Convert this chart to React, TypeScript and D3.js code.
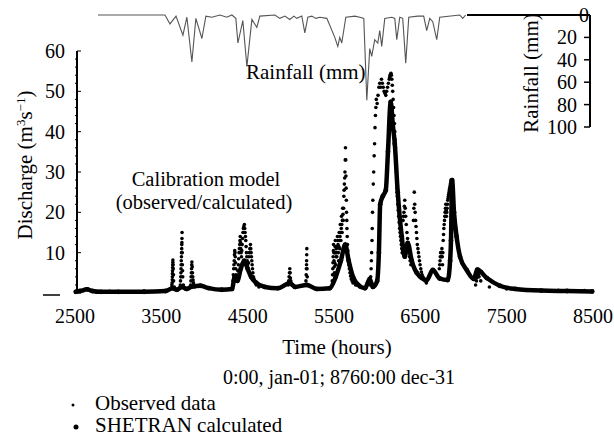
import React from "react";
import * as d3 from "d3";

// time axis labels (hours)
const timeTicks = [2500, 3500, 4500, 5500, 6500, 7500, 8500];
const dischargeTicks = [10, 20, 30, 40, 50, 60];
const rainTicks = [0, 20, 40, 60, 80, 100];

// rainfall, [hour, mm]
const rainfall: [number, number][] = [
  [2766, 0], [3542, 0], [3600, 8], [3670, 1], [3750, 18], [3796, 2], [3854, 42],
  [3900, 3], [3970, 21], [4016, 1], [4086, 2], [4178, 0], [4259, 2], [4317, 0],
  [4363, 3], [4387, 25], [4444, 5], [4491, 46], [4549, 4], [4606, 11], [4641, 1],
  [4815, 0], [4873, 3], [4931, 1], [4988, 4], [5035, 1], [5069, 3], [5127, 1],
  [5162, 16], [5197, 2], [5243, 1], [5289, 3], [5336, 2], [5417, 3], [5509, 20],
  [5544, 28], [5567, 20], [5590, 25], [5637, 2], [5741, 1], [5799, 2], [5845, 3],
  [5880, 76], [5914, 30], [5937, 37], [5972, 22], [6007, 25], [6030, 14], [6053, 28],
  [6088, 3], [6169, 2], [6204, 3], [6227, 22], [6262, 2], [6296, 3], [6331, 43],
  [6366, 2], [6470, 1], [6539, 1], [6574, 14], [6609, 3], [6644, 6], [6690, 22],
  [6725, 2], [6956, 0], [6991, 3], [7025, 0],
];

// SHETRAN calculated discharge, [hour, m3/s]
const calculated: [number, number][] = [
  [2510, 0.3], [2560, 0.5], [2640, 0.9], [2700, 0.5], [2800, 0.3], [3000, 0.3],
  [3300, 0.3], [3550, 0.5], [3630, 1.2], [3680, 0.8], [3740, 1.5], [3790, 1],
  [3855, 1.6], [3950, 1.8], [4050, 1.2], [4200, 0.8], [4320, 1], [4350, 4],
  [4380, 3], [4420, 6], [4460, 8], [4500, 6], [4540, 4], [4600, 2.5], [4700, 1.5],
  [4850, 1.2], [4990, 2.5], [5050, 1.5], [5185, 2], [5300, 1], [5450, 1.2],
  [5520, 4], [5580, 8], [5630, 12], [5670, 8], [5720, 4], [5780, 2], [5860, 1.2],
  [5914, 3.5], [5950, 1.5], [6000, 3], [6020, 10], [6035, 22], [6065, 24],
  [6100, 25.5], [6125, 35], [6157, 47.4], [6180, 42], [6204, 37], [6238, 25],
  [6285, 14], [6319, 9], [6354, 12.4], [6400, 8], [6458, 5], [6574, 3.2],
  [6644, 5.7], [6725, 3.6], [6817, 3.2], [6845, 8], [6855, 13], [6868, 28],
  [6890, 20], [6920, 14], [6960, 9], [7040, 5.6], [7120, 3.5], [7160, 5.8],
  [7270, 3.7], [7420, 1.8], [7600, 1], [7900, 0.6], [8200, 0.5], [8490, 0.4],
];

// observed discharge, [hour, m3/s]
const observed: [number, number][] = [
  [2600, 0.6], [2900, 0.4], [3300, 0.5],
  [3620, 1.2], [3622, 2], [3625, 2.5], [3627, 3.3], [3628, 4], [3629, 4.8], [3630, 5.5], [3631, 6.3], [3632, 7], [3633, 7.6], [3634, 8.2], [3636, 7], [3638, 6], [3640, 4.5], [3642, 3], [3650, 1.5],
  [3720, 2], [3722, 3], [3725, 4], [3727, 5], [3728, 6], [3730, 7], [3731, 8], [3733, 9], [3734, 10], [3736, 11], [3737, 12], [3738, 12.5], [3739, 13.5], [3740, 15], [3742, 10], [3744, 7], [3746, 5.5], [3748, 4], [3755, 2],
  [3840, 2], [3843, 3], [3845, 4], [3848, 5], [3850, 6], [3852, 7], [3854, 7.7], [3858, 6.5], [3861, 5], [3864, 4], [3868, 3.2], [3872, 2.5], [3885, 1.5],
  [4330, 3], [4334, 4.5], [4338, 6], [4341, 7], [4344, 8], [4347, 9.5], [4350, 10.5], [4353, 10], [4356, 9], [4359, 7.5], [4362, 6], [4365, 4.5], [4368, 3], [4374, 3.5], [4380, 4], [4386, 5.5], [4392, 7], [4396, 8.5],
  [4400, 10], [4404, 11], [4408, 12], [4411, 13], [4414, 14], [4417, 12.5], [4420, 11], [4424, 10], [4428, 9], [4432, 10.5], [4436, 12], [4441, 13.5], [4446, 15], [4450, 16], [4455, 16.5],
  [4462, 17], [4466, 16], [4470, 15], [4474, 14], [4478, 13], [4482, 11.5], [4486, 10], [4490, 9], [4495, 8], [4500, 7], [4505, 6], [4510, 7.5], [4515, 9], [4520, 10], [4525, 11],
  [4532, 12], [4536, 11], [4540, 10], [4544, 9], [4548, 8], [4552, 7], [4556, 6], [4561, 5], [4566, 4], [4573, 3.5], [4580, 3], [4590, 2.5], [4600, 2], [4630, 1.5],
  [4970, 2], [4975, 3], [4980, 4], [4984, 5], [4988, 6], [4992, 5], [4995, 3.7], [5000, 3], [5010, 2], [5060, 1.5],
  [5175, 3], [5178, 4.5], [5180, 6], [5182, 7], [5183, 8], [5184, 9.5], [5185, 11], [5188, 6], [5190, 4], [5200, 2],
  [5480, 3], [5483, 4.5], [5486, 6], [5488, 7.5], [5490, 9], [5493, 10.5], [5495, 12], [5498, 10], [5500, 8], [5503, 6.5], [5505, 5], [5508, 7.5], [5510, 10], [5512, 11.5], [5515, 13],
  [5518, 10], [5520, 7], [5524, 9], [5527, 11], [5530, 10], [5533, 9], [5537, 11.5], [5540, 14], [5544, 13], [5547, 12], [5550, 10], [5553, 8], [5557, 11.5], [5560, 15], [5563, 13], [5566, 11],
  [5570, 14], [5573, 17], [5576, 15], [5580, 13], [5584, 16], [5587, 19], [5590, 17], [5594, 15], [5597, 18], [5600, 21], [5604, 19.5], [5607, 18], [5611, 21], [5614, 24], [5617, 25.5], [5620, 27],
  [5624, 28.5], [5627, 30], [5630, 33], [5633, 36], [5636, 33], [5638, 29], [5640, 26], [5643, 23], [5645, 20], [5648, 18], [5650, 16], [5653, 14], [5656, 12], [5660, 10.5], [5663, 9],
  [5668, 8], [5672, 7], [5678, 6], [5685, 5], [5692, 4.2], [5700, 3.5], [5710, 3], [5720, 2.5], [5750, 2], [5800, 1.5],
  [5920, 2], [5925, 4], [5930, 6], [5933, 8], [5936, 10], [5940, 13], [5943, 16], [5946, 20],
  [5950, 23], [5955, 27], [5960, 30], [5965, 34], [5970, 37], [5975, 41], [5980, 44], [5985, 46],
  [5990, 48], [6000, 47], [6010, 49], [6020, 51], [6030, 52], [6040, 51], [6050, 53], [6060, 52],
  [6070, 51], [6080, 50], [6090, 49.5], [6100, 49], [6110, 50], [6120, 51], [6130, 52], [6140, 53], [6145, 53.5], [6150, 54], [6155, 54.2], [6160, 54.5], [6165, 54], [6170, 53], [6175, 51.5], [6180, 50],
  [6185, 48], [6190, 46], [6195, 44], [6200, 42], [6204, 40], [6208, 38], [6212, 36], [6215, 34], [6218, 32], [6222, 30], [6226, 28], [6230, 26], [6235, 24], [6240, 22], [6245, 20.5], [6250, 19],
  [6255, 17.5], [6260, 16], [6265, 15], [6270, 14], [6275, 13], [6280, 12], [6285, 11], [6290, 10], [6300, 18], [6305, 19], [6310, 20], [6315, 21.5], [6320, 23], [6325, 21], [6330, 19],
  [6337, 17], [6345, 15], [6352, 13.5], [6360, 12], [6367, 10.5], [6375, 9], [6382, 8], [6390, 7],
  [6420, 18], [6425, 21], [6430, 25], [6435, 22], [6440, 20], [6445, 18], [6450, 16.5], [6455, 15], [6460, 13.5], [6465, 12], [6472, 11], [6478, 10], [6484, 9], [6490, 8],
  [6497, 7], [6505, 6], [6512, 5.2], [6520, 4.5], [6530, 4], [6540, 3.5], [6555, 3], [6570, 2.5],
  [6720, 6], [6724, 7], [6728, 8], [6731, 9], [6735, 10], [6742, 9], [6746, 10], [6750, 11], [6754, 9], [6757, 7], [6761, 10], [6765, 13], [6769, 14.5], [6772, 16],
  [6776, 17], [6780, 18], [6784, 19], [6787, 20], [6791, 21], [6795, 22], [6799, 20.5], [6802, 19], [6806, 20], [6810, 21], [6814, 22], [6818, 23], [6822, 23.5], [6825, 24], [6829, 24.5], [6833, 25],
  [6837, 25.5], [6840, 26], [6844, 26.5], [6848, 27], [6852, 27.5], [6855, 28],
  [7140, 2], [7150, 3], [7155, 3.8], [7160, 4.5], [7165, 4.8], [7170, 5], [7175, 4.5], [7180, 4], [7200, 3], [7300, 1.5], [7500, 1], [7800, 0.8], [8100, 0.7], [8400, 0.6],
];

const font = "'Liberation Serif', 'DejaVu Serif', serif";

export default function App() {
  const x = d3.scaleLinear().domain([2500, 8500]).range([75, 593]);
  const y = d3.scaleLinear().domain([0, 60]).range([293, 51]);
  const rainY = d3.scaleLinear().domain([0, 100]).range([15, 127]);

  const rainLine = d3
    .line<[number, number]>()
    .x((d) => x(d[0]))
    .y((d) => rainY(d[1]));

  const calcLine = d3
    .line<[number, number]>()
    .x((d) => x(d[0]))
    .y((d) => y(d[1]))
    .curve(d3.curveMonotoneX);

  const minor = d3.range(0, 61, 2);

  return (
    <svg
      width={614}
      height={437}
      style={{ position: "absolute", left: 0, top: 0, background: "#fff", fontFamily: font, fontSize: 20 }}
    >
      {/* rainfall, hanging from the top */}
      <line x1={467} x2={590} y1={rainY(0)} y2={rainY(0)} stroke="#000" strokeWidth={2} />
      <path d={rainLine(rainfall) || ""} fill="none" stroke="#555" strokeWidth={1.1} />
      <line x1={590} x2={590} y1={rainY(0)} y2={rainY(100)} stroke="#000" strokeWidth={2} />
      {rainTicks.map((t) => (
        <g key={t}>
          {t > 0 && <line x1={584} x2={590} y1={rainY(t)} y2={rainY(t)} stroke="#000" strokeWidth={1.5} />}
          <text
            x={t === 0 ? 589 : 577}
            y={rainY(t)}
            textAnchor="end"
            dominantBaseline="central"
          >
            {t}
          </text>
        </g>
      ))}
      <text transform="translate(538,73) rotate(-90)" textAnchor="middle" fontSize={21}>
        Rainfall (mm)
      </text>
      <text x={246} y={79} fontSize={21}>Rainfall (mm)</text>

      {/* discharge axis */}
      <line x1={77} x2={77} y1={y(60)} y2={y(0)} stroke="#000" strokeWidth={2} />
      {minor.map((t) => (
        <line
          key={t}
          x1={t % 10 === 0 ? 77 : 75}
          x2={t % 10 === 0 ? 81 : 77}
          y1={y(t)}
          y2={y(t)}
          stroke="#000"
          strokeWidth={1}
        />
      ))}
      {dischargeTicks.map((t) => (
        <text key={t} x={65} y={y(t)} textAnchor="end" dominantBaseline="central">
          {t}
        </text>
      ))}
      <line x1={43} x2={60} y1={295} y2={295} stroke="#000" strokeWidth={1.5} />
      <text transform="translate(32,165) rotate(-90)" textAnchor="middle" fontSize={21}>
        Discharge (m
        <tspan baselineShift="super" fontSize={13}>3</tspan>
        s
        <tspan baselineShift="super" fontSize={13}>−1</tspan>)
      </text>

      {/* series */}
      <path
        d={calcLine(calculated) || ""}
        fill="none"
        stroke="#000"
        strokeWidth={4.5}
        strokeLinejoin="round"
        strokeLinecap="round"
      />
      {calculated.map((d, i) => (
        <circle key={"c" + i} cx={x(d[0])} cy={y(d[1])} r={2.4} fill="#000" />
      ))}
      {observed.map((d, i) => (
        <circle key={"o" + i} cx={x(d[0])} cy={y(d[1])} r={1.8} fill="#000" />
      ))}

      {/* time labels */}
      {timeTicks.map((t) => (
        <text key={t} x={x(t)} y={323} textAnchor="middle">
          {t}
        </text>
      ))}
      <text x={337} y={354} textAnchor="middle" fontSize={21}>Time (hours)</text>
      <text x={339} y={384} textAnchor="middle">0:00, jan-01; 8760:00 dec-31</text>

      <text x={206} y={186} textAnchor="middle" fontSize={20.5}>Calibration model</text>
      <text x={204} y={209} textAnchor="middle" fontSize={20.5}>(observed/calculated)</text>

      {/* legend */}
      <circle cx={73} cy={405} r={1.5} fill="#000" />
      <text x={95} y={410} fontSize={21}>Observed data</text>
      <circle cx={76} cy={427} r={2.5} fill="#000" />
      <text x={95} y={432} fontSize={21}>SHETRAN calculated</text>
    </svg>
  );
}
